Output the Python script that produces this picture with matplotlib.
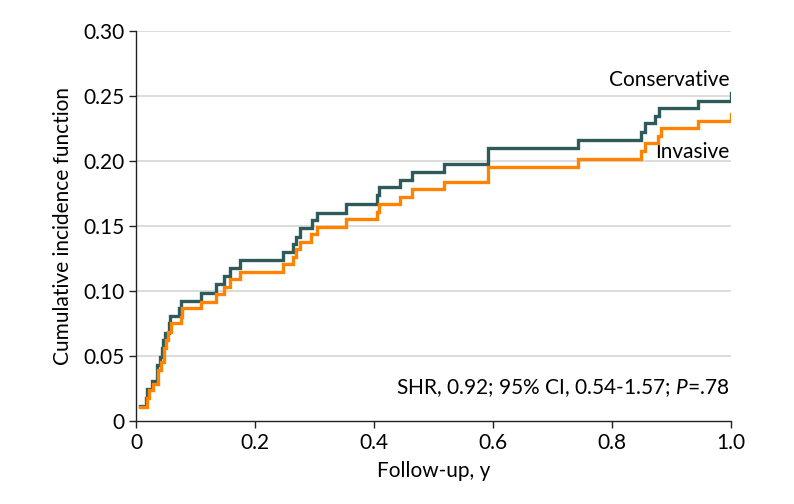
import numpy as np
import matplotlib.pyplot as plt

# step data (time in years, cumulative incidence after the step)
cons_t = [0.0067, 0.016, 0.019, 0.027, 0.035, 0.036, 0.041, 0.044, 0.046, 0.049, 0.0555,
          0.057, 0.073, 0.0756, 0.110, 0.134, 0.148, 0.158, 0.175, 0.2465, 0.2644, 0.269,
          0.2756, 0.295, 0.3036, 0.353, 0.4056, 0.409, 0.4437, 0.4644, 0.5176, 0.591,
          0.7434, 0.8487, 0.855, 0.872, 0.8795, 0.944, 1.0]
cons_y = [0.0118, 0.018, 0.0246, 0.031, 0.037, 0.043, 0.0495, 0.056, 0.0623, 0.068, 0.075,
          0.081, 0.0867, 0.0926, 0.0987, 0.105, 0.1115, 0.1174, 0.1238, 0.1297, 0.136, 0.1418,
          0.1487, 0.1546, 0.160, 0.1669, 0.1738, 0.1797, 0.1854, 0.1913, 0.1977, 0.2098,
          0.2162, 0.2221, 0.229, 0.2349, 0.2405, 0.2464, 0.2526]

inv_t = [0.0067, 0.019, 0.022, 0.029, 0.0365, 0.042, 0.047, 0.050, 0.054, 0.058, 0.075,
         0.077, 0.110, 0.134, 0.148, 0.158, 0.175, 0.2465, 0.2644, 0.269, 0.275, 0.294,
         0.3036, 0.353, 0.4056, 0.409, 0.4437, 0.4644, 0.5176, 0.591, 0.7434, 0.8487,
         0.855, 0.878, 0.882, 0.944, 1.0]
inv_y = [0.011, 0.0174, 0.0238, 0.0285, 0.039, 0.0456, 0.056, 0.0623, 0.0687, 0.075, 0.080,
         0.0867, 0.0918, 0.0977, 0.103, 0.109, 0.1149, 0.1208, 0.1264, 0.132, 0.138, 0.1438,
         0.1495, 0.155, 0.161, 0.1669, 0.1726, 0.1785, 0.1841, 0.1956, 0.2013, 0.2077,
         0.2136, 0.2192, 0.2251, 0.231, 0.236]

y_ticks = [0, 0.05, 0.10, 0.15, 0.20, 0.25, 0.30]
y_labels = ['0', '0.05', '0.10', '0.15', '0.20', '0.25', '0.30']
x_ticks = [0, 0.2, 0.4, 0.6, 0.8, 1.0]
x_labels = ['0', '0.2', '0.4', '0.6', '0.8', '1.0']

plt.rcParams['font.family'] = ['Lato', 'DejaVu Sans']
plt.rcParams['font.size'] = 14
plt.rcParams['mathtext.fontset'] = 'custom'
plt.rcParams['mathtext.it'] = 'Lato:italic'
plt.rcParams['mathtext.rm'] = 'Lato'

fig = plt.figure(figsize=(7.94, 5.04), dpi=100)
ax = fig.add_axes([0.1713, 0.1647, 0.9207 - 0.1713, 0.9385 - 0.1647])

for yv in y_ticks[1:]:
    ax.axhline(yv, color='#d9d9d9', lw=1.3, zorder=1)

ax.step(cons_t, cons_y, where='post', color='#2e5b5a', lw=2.4, zorder=3,
        solid_joinstyle='miter')
ax.step(inv_t, inv_y, where='post', color='#ff8300', lw=2.4, zorder=4,
        solid_joinstyle='miter')

ax.set_xlim(0, 1.0)
ax.set_ylim(0, 0.30)
ax.set_xticks(x_ticks)
ax.set_xticklabels(x_labels)
ax.set_yticks(y_ticks)
ax.set_yticklabels(y_labels)
ax.tick_params(direction='out', length=5, width=1, color='#222222', labelsize=15)
for s in ['top', 'right']:
    ax.spines[s].set_visible(False)
for s in ['left', 'bottom']:
    ax.spines[s].set_color('#222222')
    ax.spines[s].set_linewidth(1)

ax.set_xlabel('Follow-up, y', fontsize=15, labelpad=6)
ax.set_ylabel('Cumulative incidence function', fontsize=15, labelpad=7)

ax.text(0.997, 0.262, 'Conservative', ha='right', va='center', fontsize=15)
ax.text(0.997, 0.207, 'Invasive', ha='right', va='center', fontsize=15)
ax.text(0.997, 0.025, 'SHR, 0.92; 95% CI, 0.54-1.57; $P$=.78', ha='right',
        va='center', fontsize=15)

fig.savefig('out.png', dpi=100)
